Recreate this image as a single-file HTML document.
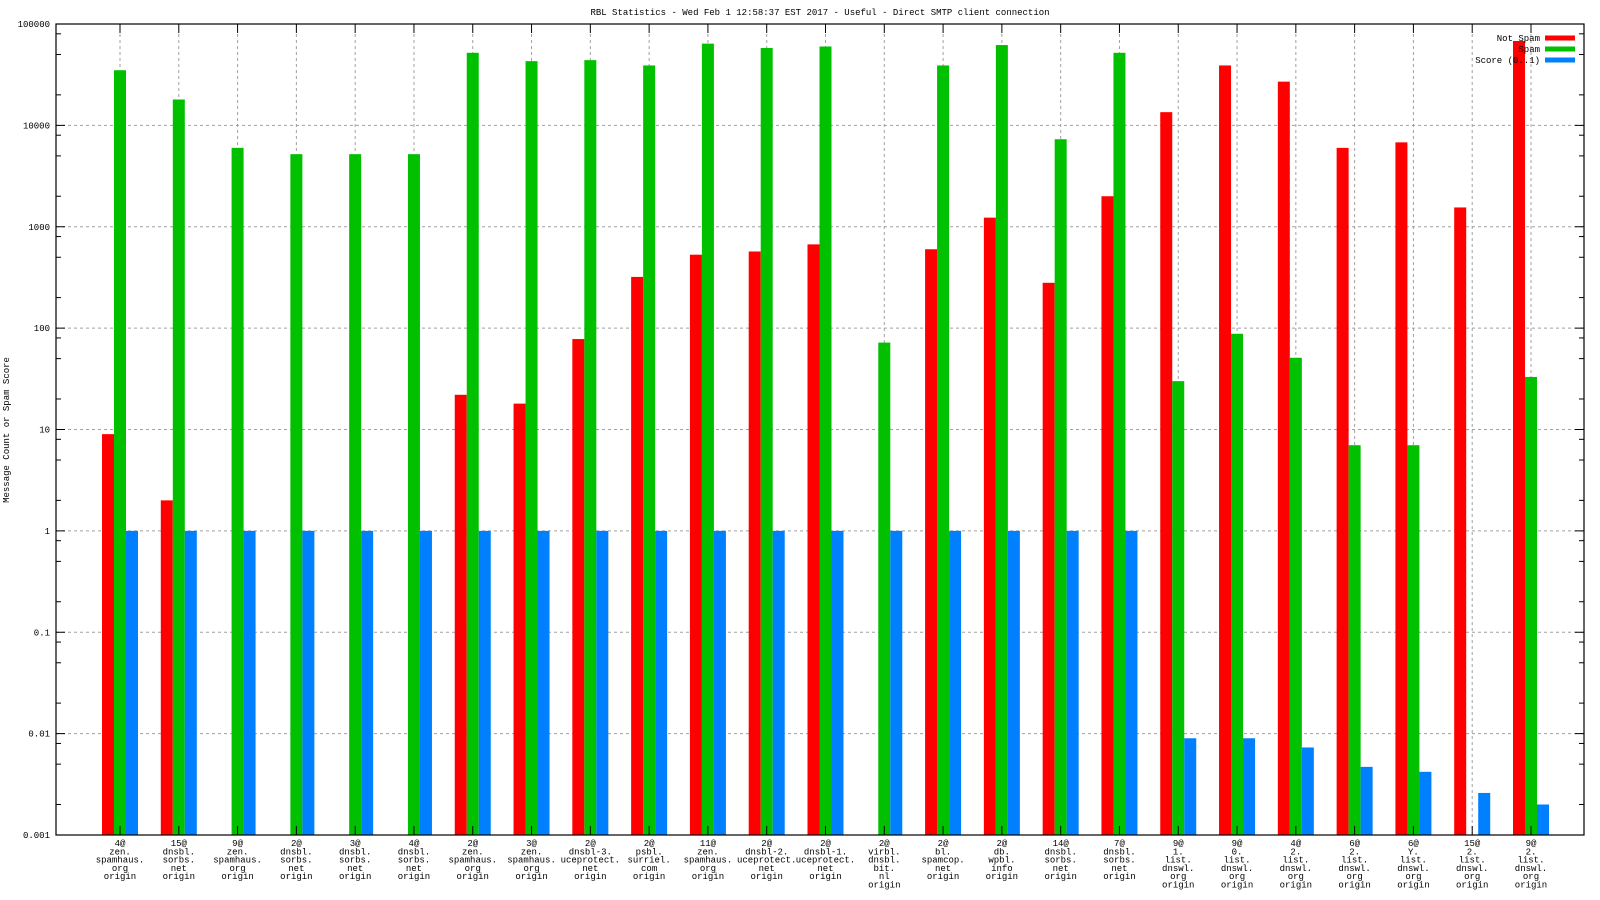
<!DOCTYPE html>
<html><head><meta charset="utf-8"><style>
html,body{margin:0;padding:0;background:#fff;width:1600px;height:900px;overflow:hidden}
svg text{font-family:"Liberation Mono","DejaVu Sans Mono",monospace;font-size:9px;fill:#000}
</style></head><body>
<svg id="chart" width="1600" height="900" viewBox="0 0 1600 900" xmlns="http://www.w3.org/2000/svg">
<text x="820" y="15" text-anchor="middle">RBL Statistics - Wed Feb  1 12:58:37 EST 2017 - Useful - Direct SMTP client connection</text>
<text transform="translate(9,430) rotate(-90)" text-anchor="middle">Message Count or Spam Score</text>
<g id="grid"></g><g id="bars"></g><g id="axes"></g><g id="legend"></g>
</svg>
<script>
const categories = [
["4@","zen.","spamhaus.","org","origin"],["15@","dnsbl.","sorbs.","net","origin"],["9@","zen.","spamhaus.","org","origin"],
["2@","dnsbl.","sorbs.","net","origin"],["3@","dnsbl.","sorbs.","net","origin"],["4@","dnsbl.","sorbs.","net","origin"],
["2@","zen.","spamhaus.","org","origin"],["3@","zen.","spamhaus.","org","origin"],["2@","dnsbl-3.","uceprotect.","net","origin"],
["2@","psbl.","surriel.","com","origin"],["11@","zen.","spamhaus.","org","origin"],["2@","dnsbl-2.","uceprotect.","net","origin"],
["2@","dnsbl-1.","uceprotect.","net","origin"],["2@","virbl.","dnsbl.","bit.","nl","origin"],["2@","bl.","spamcop.","net","origin"],
["2@","db.","wpbl.","info","origin"],["14@","dnsbl.","sorbs.","net","origin"],["7@","dnsbl.","sorbs.","net","origin"],
["9@","1.","list.","dnswl.","org","origin"],["9@","0.","list.","dnswl.","org","origin"],["4@","2.","list.","dnswl.","org","origin"],
["6@","2.","list.","dnswl.","org","origin"],["6@","Y.","list.","dnswl.","org","origin"],["15@","2.","list.","dnswl.","org","origin"],
["9@","2.","list.","dnswl.","org","origin"]];
const notSpam = [9,2,0,0,0,0,22,18,78,320,530,570,670,0,600,1230,280,2000,13500,39000,27000,6000,6800,1550,68000];
const spam = [35000,18000,6000,5200,5200,5200,52000,43000,44000,39000,64000,58000,60000,72,39000,62000,7300,52000,30,88,51,7,7,0,33];
const score = [1,1,1,1,1,1,1,1,1,1,1,1,1,1,1,1,1,1,0.009,0.009,0.0073,0.0047,0.0042,0.0026,0.002];
const yTicks = ["0.001","0.01","0.1","1","10","100","1000","10000","100000"];
const seriesNames = ["Not Spam","Spam","Score (0..1)"];
const colors = ["#ff0000","#00c000","#0080ff"];

const L=56,R=1584,T=24,B=835;
const NS="http://www.w3.org/2000/svg";
function yPos(v){return T+(5-Math.log10(v))*(B-T)/8;}
function xPos(i){return 120+i*(1531-120)/24;}
function mk(parent,tag,attrs){const e=document.createElementNS(NS,tag);for(const k in attrs)e.setAttribute(k,attrs[k]);document.getElementById(parent).appendChild(e);return e;}

// grid
yTicks.forEach((t,k)=>{
  const y=yPos(parseFloat(t));
  if(k>0&&k<yTicks.length-1){const g=mk('grid','line',{x1:L,x2:R,y1:y,y2:y,stroke:'#a0a0a0','stroke-dasharray':'3,3'});
  
  }
  const tl=mk('axes','text',{x:L-6,y:y+3,'text-anchor':'end'});tl.textContent=t;
  
  
  mk('axes','line',{x1:L,x2:L+9,y1:y,y2:y,stroke:'#000'});
  mk('axes','line',{x1:R,x2:R-9,y1:y,y2:y,stroke:'#000'});
  if(k<yTicks.length-1){[2,5,8].forEach(m=>{const yy=yPos(parseFloat(t)*m);
    mk('axes','line',{x1:L,x2:L+5,y1:yy,y2:yy,stroke:'#000'});
    mk('axes','line',{x1:R,x2:R-5,y1:yy,y2:yy,stroke:'#000'});});}
});
categories.forEach((c,i)=>{
  const x=xPos(i);
  const g=mk('grid','line',{x1:x,x2:x,y1:T+10,y2:B,stroke:'#a0a0a0','stroke-dasharray':'3,3'});
  
  
  mk('axes','line',{x1:x,x2:x,y1:T,y2:T+9,stroke:'#000'});
  mk('axes','line',{x1:x,x2:x,y1:B,y2:B-9,stroke:'#000'});
  const t=mk('axes','text',{x:x,y:846,'text-anchor':'middle'});
  
  
  c.forEach((s,j)=>{const ts=document.createElementNS(NS,'tspan');ts.setAttribute('x',x);ts.setAttribute('dy',j?8.3:0);ts.textContent=s;t.appendChild(ts);});
});
// bars
const series=[notSpam,spam,score];
series.forEach((arr,s)=>{
  arr.forEach((v,i)=>{
    if(!(v>0))return;
    const x=xPos(i)-18+s*12;
    const y=Math.max(yPos(v),T);
    const r=mk('bars','rect',{x:x,y:y,width:12,height:B-y,fill:colors[s]});
    
    
  });
});
mk('axes','rect',{x:L,y:T,width:R-L,height:B-T,fill:'none',stroke:'#000','stroke-width':1.2});
// legend
seriesNames.forEach((n,k)=>{
  const y=38+k*11;
  const t=mk('legend','text',{x:1540,y:y+3,'text-anchor':'end'});t.textContent=n;
  
  
  mk('legend','rect',{x:1545,y:y-2.5,width:30,height:5,fill:colors[k]});
});
</script>
</body></html>
